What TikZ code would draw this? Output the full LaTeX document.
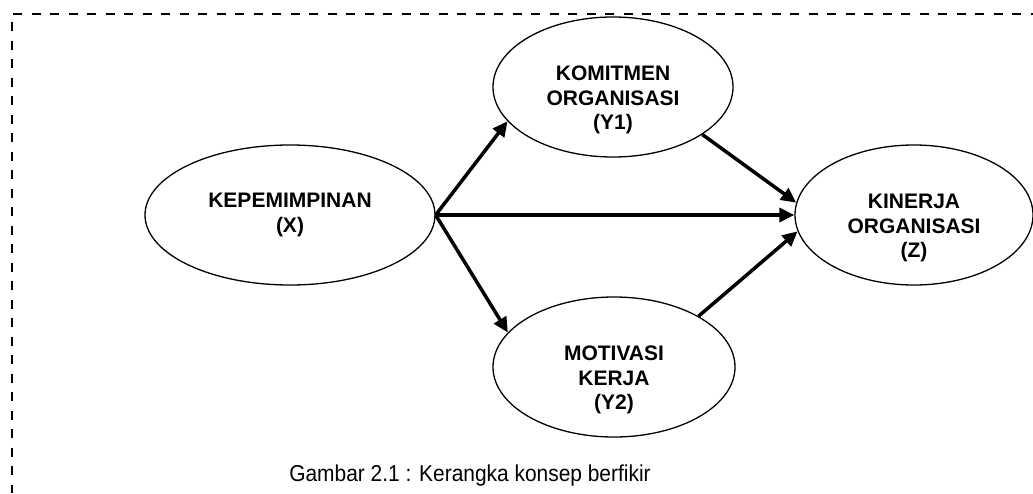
\documentclass[tikz,border=0pt]{standalone}
\usepackage{fontspec}
\setmainfont{Liberation Sans}
\usetikzlibrary{shapes.geometric, arrows.meta, positioning}

\begin{document}
\begin{tikzpicture}[
  x=1pt, y=-1pt, % one unit is one pixel of the original picture
  var/.style={ellipse, draw, line width=1.3pt, inner sep=0pt},
  lbl/.style={align=center, font=\fontsize{21}{24.5}\selectfont\bfseries},
  low/.style={label={[lbl, yshift=-13pt]center:#1}},
  link/.style={line width=3.5pt, -{Triangle[length=15pt,width=14pt]}},
  frame/.style={line width=2.2pt, dash pattern=on 9pt off 9.5pt}]

  \useasboundingbox (0,0) rectangle (1033,493);

  % open dashed frame
  \draw[frame] (13,14) -- (1033,14);
  \draw[frame] (12,22) -- (12,493);

  \node[var, lbl, minimum width=290pt, minimum height=140pt] (X) at (290,215) {KEPEMIMPINAN\\(X)};
  \node[var, minimum width=240pt, minimum height=140pt, low={KOMITMEN\\ORGANISASI\\(Y1)}] (Y1) at (613,87) {};
  \node[var, minimum width=242pt, minimum height=140pt, low={MOTIVASI\\KERJA\\(Y2)}] (Y2) at (614,367) {};
  \node[var, minimum width=238pt, minimum height=140pt, low={KINERJA\\ORGANISASI\\(Z)}] (Z) at (914,215) {};

  \draw[link] (X.east) -- (Y1.198);
  \draw[link] (X.east) -- (Z.west);
  \draw[link] (X.east) -- (Y2.162);
  \draw[link] (Y1.-28) -- (Z.174);
  \draw[link] (Y2.31) -- (Z.188);

  \node[font=\fontsize{23}{27}\selectfont, xscale=0.91, anchor=base] (cap) at (470,481) {Gambar 2.1 : Kerangka konsep berfikir};
\end{tikzpicture}
\end{document}
